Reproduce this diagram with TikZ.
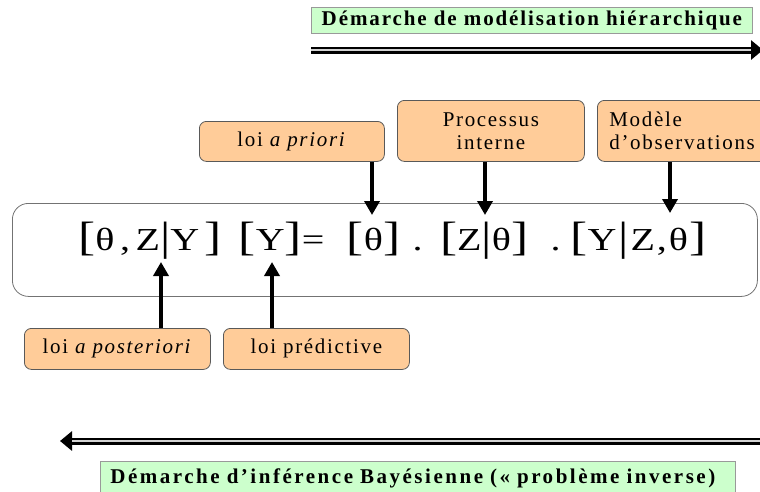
\documentclass[tikz,border=0pt]{standalone}
\usepackage{graphicx}
\usepackage{fontspec}
\setmainfont{Liberation Serif}
\usetikzlibrary{arrows.meta,calc}
\definecolor{bgreen}{HTML}{CCFFCC}
\definecolor{peach}{HTML}{FFCC99}
\newcommand\bk[1]{{\fontsize{41}{41}\selectfont\addfontfeature{LetterSpace=8}#1}}
\begin{document}
\begin{tikzpicture}[x=1pt,y=-1pt,
  banner/.style={draw=gray!80, fill=bgreen, line width=0.8pt, inner sep=0pt, anchor=north west,
    font=\bfseries\fontsize{21}{23}\selectfont\addfontfeature{LetterSpace=9}},
  lbox/.style={draw=black!65, fill=peach, rounded corners=7pt, line width=0.8pt, anchor=north west,
    inner sep=0pt, font=\fontsize{21}{23}\selectfont\addfontfeature{LetterSpace=8}},
  fbox/.style={draw=black!55, rounded corners=16pt, line width=0.8pt, anchor=north west, inner sep=0pt},
  varr/.style={line width=4.5pt, -{Triangle[length=14pt,width=15pt]}},
  harr/.style={line width=7pt, -{Triangle[length=12pt,width=19pt]}},
  hmid/.style={line width=1.2pt, draw=gray!35}
]
\clip (0,0) rectangle (760,491);
\useasboundingbox (0,0) rectangle (760,491);

% top banner and arrow
\node[banner, minimum width=441pt, minimum height=26pt] (tb) at (311,7) {Démarche de modélisation hiérarchique};
\coordinate (ts) at (311,50);
\coordinate (te) at (763,50);
\draw[harr] (ts) -- (te);
\draw[hmid] (ts) -- ($(te)+(-12,0)$);

% formula box
\node[fbox, minimum width=745pt, minimum height=93pt] (fb) at (12,203) {};
\node[font=\fontsize{32}{36}\selectfont\addfontfeature{LetterSpace=14}, inner sep=0pt, anchor=base west] (fm) at (78,250)
  {\scalebox{1.25}[1]{\bk[θ,Z\bk|Y\hspace{4pt}\bk]\hspace{14pt}\bk[Y\bk]=\hspace{18pt}\bk[θ\bk]\hspace{10pt}.\hspace{14pt}\bk[Z\bk|θ\bk]\hspace{18pt}.\hspace{8pt}\bk[Y\hspace{1.5pt}\bk|\hspace{1.5pt}Z\hspace{1.5pt},\hspace{1.5pt}θ\hspace{1.5pt}\bk]}};

% top label boxes
\node[lbox, minimum width=185pt, minimum height=40pt] (prior) at (199,121) {loi \textit{a priori}};
\node[lbox, minimum width=187pt, minimum height=61pt, align=center] (proc) at (397,100) {Processus\\interne};
\node[lbox, minimum height=61pt, text width=160pt, inner xsep=12pt, align=left] (obs) at (597,100) {Modèle\\d’observations};

\coordinate (pa) at (372,215);
\coordinate (pb) at (485,215);
\coordinate (pc) at (670,213);
\draw[varr] (prior.south -| pa) -- (pa);
\draw[varr] (proc.south -| pb) -- (pb);
\draw[varr] (obs.south -| pc) -- (pc);

% bottom label boxes
\node[lbox, minimum width=186pt, minimum height=41pt] (post) at (24,328) {loi \textit{a posteriori}};
\node[lbox, minimum width=186pt, minimum height=41pt] (pred) at (223,328) {loi prédictive};

\coordinate (qa) at (161,262);
\coordinate (qb) at (272,262);
\draw[varr] (post.north -| qa) -- (qa);
\draw[varr] (pred.north -| qb) -- (qb);

% bottom arrow and banner
\coordinate (bs) at (762,441);
\coordinate (be) at (60,441);
\draw[harr] (bs) -- (be);
\draw[hmid] (bs) -- ($(be)+(12,0)$);
\node[banner, minimum width=635pt, minimum height=40pt, text width=615pt, inner xsep=10pt, align=left,
  text height=15pt, text depth=10pt,
  font=\bfseries\fontsize{21}{23}\selectfont\addfontfeature{LetterSpace=12}] (bb) at (100,461)
  {Démarche d’inférence Bayésienne (« problème inverse)};
\end{tikzpicture}
\end{document}
